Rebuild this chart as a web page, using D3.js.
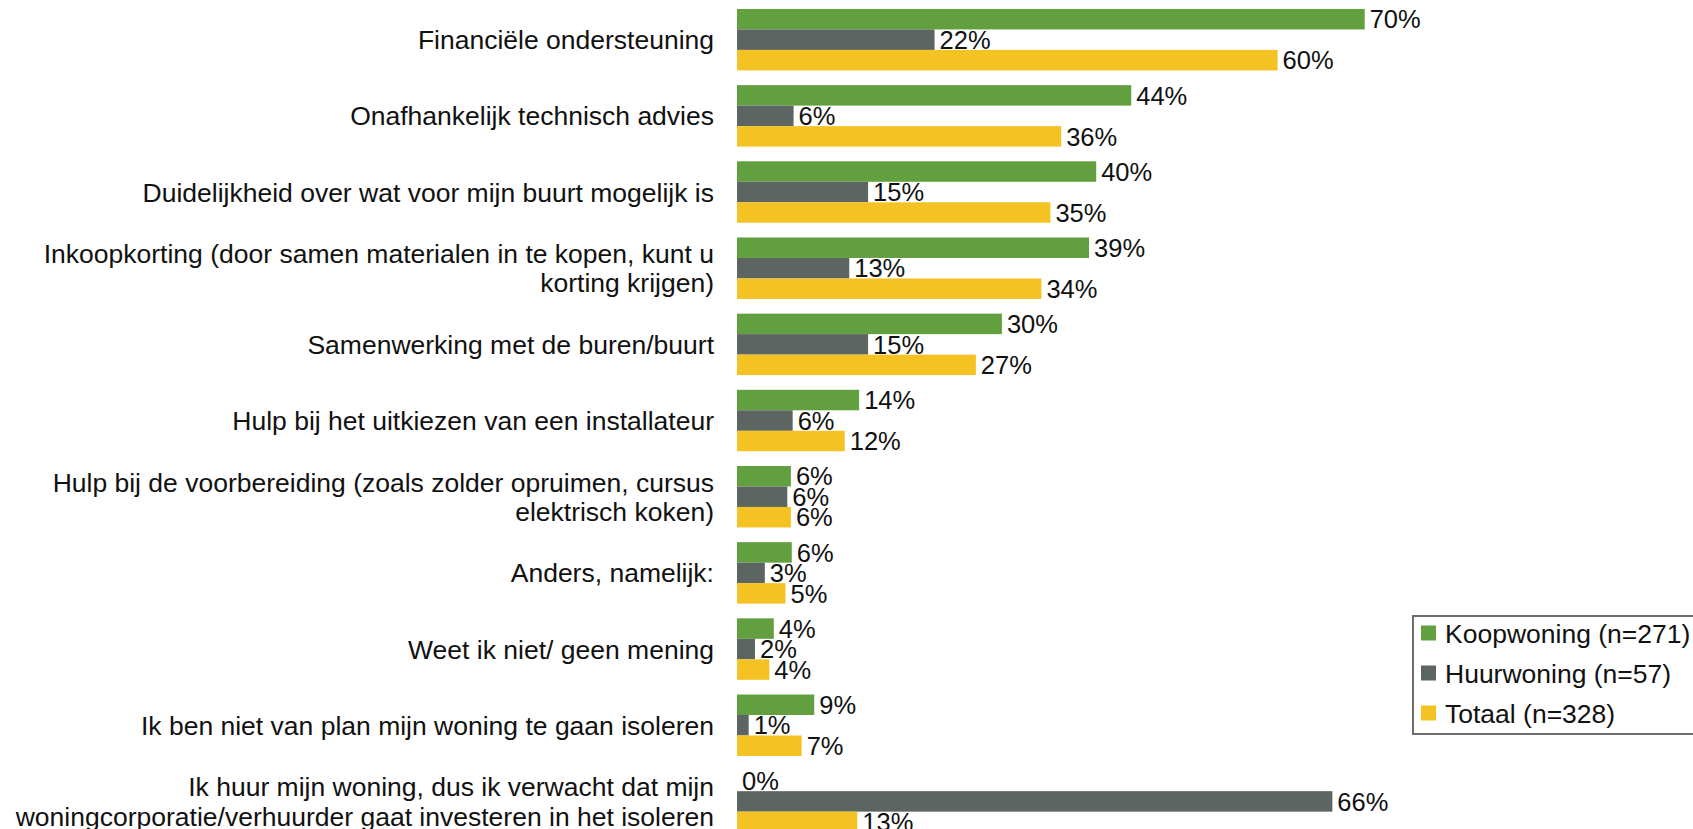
<!DOCTYPE html>
<html>
<head>
<meta charset="utf-8">
<script src="https://cdn.jsdelivr.net/npm/d3@7"></script>
<style>
  html, body { margin: 0; padding: 0; background: #fff; overflow: hidden; }
  text { font-family: "Liberation Sans", Arial, sans-serif; fill: #111; }
</style>
</head>
<body>
<div id="chart"></div>
<script>
const categories = [
    "Financiële ondersteuning",
    "Onafhankelijk technisch advies",
    "Duidelijkheid over wat voor mijn buurt mogelijk is",
    "Inkoopkorting (door samen materialen in te kopen, kunt u\nkorting krijgen)",
    "Samenwerking met de buren/buurt",
    "Hulp bij het uitkiezen van een installateur",
    "Hulp bij de voorbereiding (zoals zolder opruimen, cursus\nelektrisch koken)",
    "Anders, namelijk:",
    "Weet ik niet/ geen mening",
    "Ik ben niet van plan mijn woning te gaan isoleren",
    "Ik huur mijn woning, dus ik verwacht dat mijn\nwoningcorporatie/verhuurder gaat investeren in het isoleren"
];

const seriesNames = ["Koopwoning (n=271)", "Huurwoning (n=57)", "Totaal (n=328)"];
const seriesColors = ["#62a03f", "#5c6562", "#f4c323"];

// percentages
const koopwoning = [69.9, 43.9, 40.0, 39.2, 29.5, 13.6, 6.0, 6.1, 4.1, 8.6, 0];
const huurwoning = [22.0, 6.3, 14.6, 12.5, 14.6, 6.2, 5.6, 3.1, 2.0, 1.3, 66.3];
const totaal     = [60.2, 36.1, 34.9, 33.9, 26.6, 12.0, 6.0, 5.4, 3.6, 7.2, 13.4];

const seriesValues = [koopwoning, huurwoning, totaal];

const width = 1693, height = 829;

const svg = d3.select("#chart")
    .append("svg")
    .attr("width", width)
    .attr("height", height);

const x = d3.scaleLinear()
    .domain([0, 100])
    .range([737, 1635]);

const y = d3.scaleBand()
    .domain(categories)
    .range([1.6, 839.5])
    .paddingInner(0.193)
    .paddingOuter(0.0965);

const ySub = d3.scaleBand()
    .domain(seriesNames)
    .range([0, y.bandwidth()]);

const rows = categories.map(function(c, i) {
    return {
        category: c,
        values: seriesNames.map(function(s, j) {
            return {series: s, color: seriesColors[j], value: seriesValues[j][i]};
        })
    };
});

const groups = svg.append("g")
    .selectAll("g")
    .data(rows)
    .join("g")
    .attr("transform", function(d) { return "translate(0," + y(d.category) + ")"; });

groups.selectAll("rect")
    .data(function(d) { return d.values; })
    .join("rect")
    .attr("x", x(0))
    .attr("y", function(d) { return ySub(d.series); })
    .attr("width", function(d) { return x(d.value) - x(0); })
    .attr("height", ySub.bandwidth())
    .attr("fill", function(d) { return d.color; });

groups.selectAll("text.val")
    .data(function(d) { return d.values; })
    .join("text")
    .attr("class", "val")
    .attr("x", function(d) { return x(d.value) + 5; })
    .attr("y", function(d) { return ySub(d.series) + ySub.bandwidth() / 2; })
    .attr("dy", "0.36em")
    .attr("font-size", "25.5px")
    .text(function(d) { return Math.round(d.value) + "%"; });

// category labels, right aligned, centred on the group
const lineH = 29.5;
groups.append("text")
    .attr("text-anchor", "end")
    .attr("font-size", "26.5px")
    .each(function(d) {
        const lines = d.category.split("\n");
        const t = d3.select(this);
        lines.forEach(function(line, k) {
            t.append("tspan")
                .attr("x", 714)
                .attr("y", y.bandwidth() / 2 + (k - (lines.length - 1) / 2) * lineH)
                .attr("dy", "0.36em")
                .text(line);
        });
    });

// legend
const lgX = 1413, lgY = 616;
svg.append("rect")
    .attr("x", lgX).attr("y", lgY)
    .attr("width", 300).attr("height", 118)
    .attr("fill", "#fff")
    .attr("stroke", "#6e6e6e")
    .attr("stroke-width", 2);

seriesNames.forEach(function(s, i) {
    const cy = lgY + 17 + i * 40;
    svg.append("rect")
        .attr("x", lgX + 8).attr("y", cy - 7.5)
        .attr("width", 15).attr("height", 15)
        .attr("fill", seriesColors[i]);
    svg.append("text")
        .attr("x", lgX + 32).attr("y", cy)
        .attr("dy", "0.36em")
        .attr("font-size", "26.5px")
        .text(s);
});
</script>
</body>
</html>
